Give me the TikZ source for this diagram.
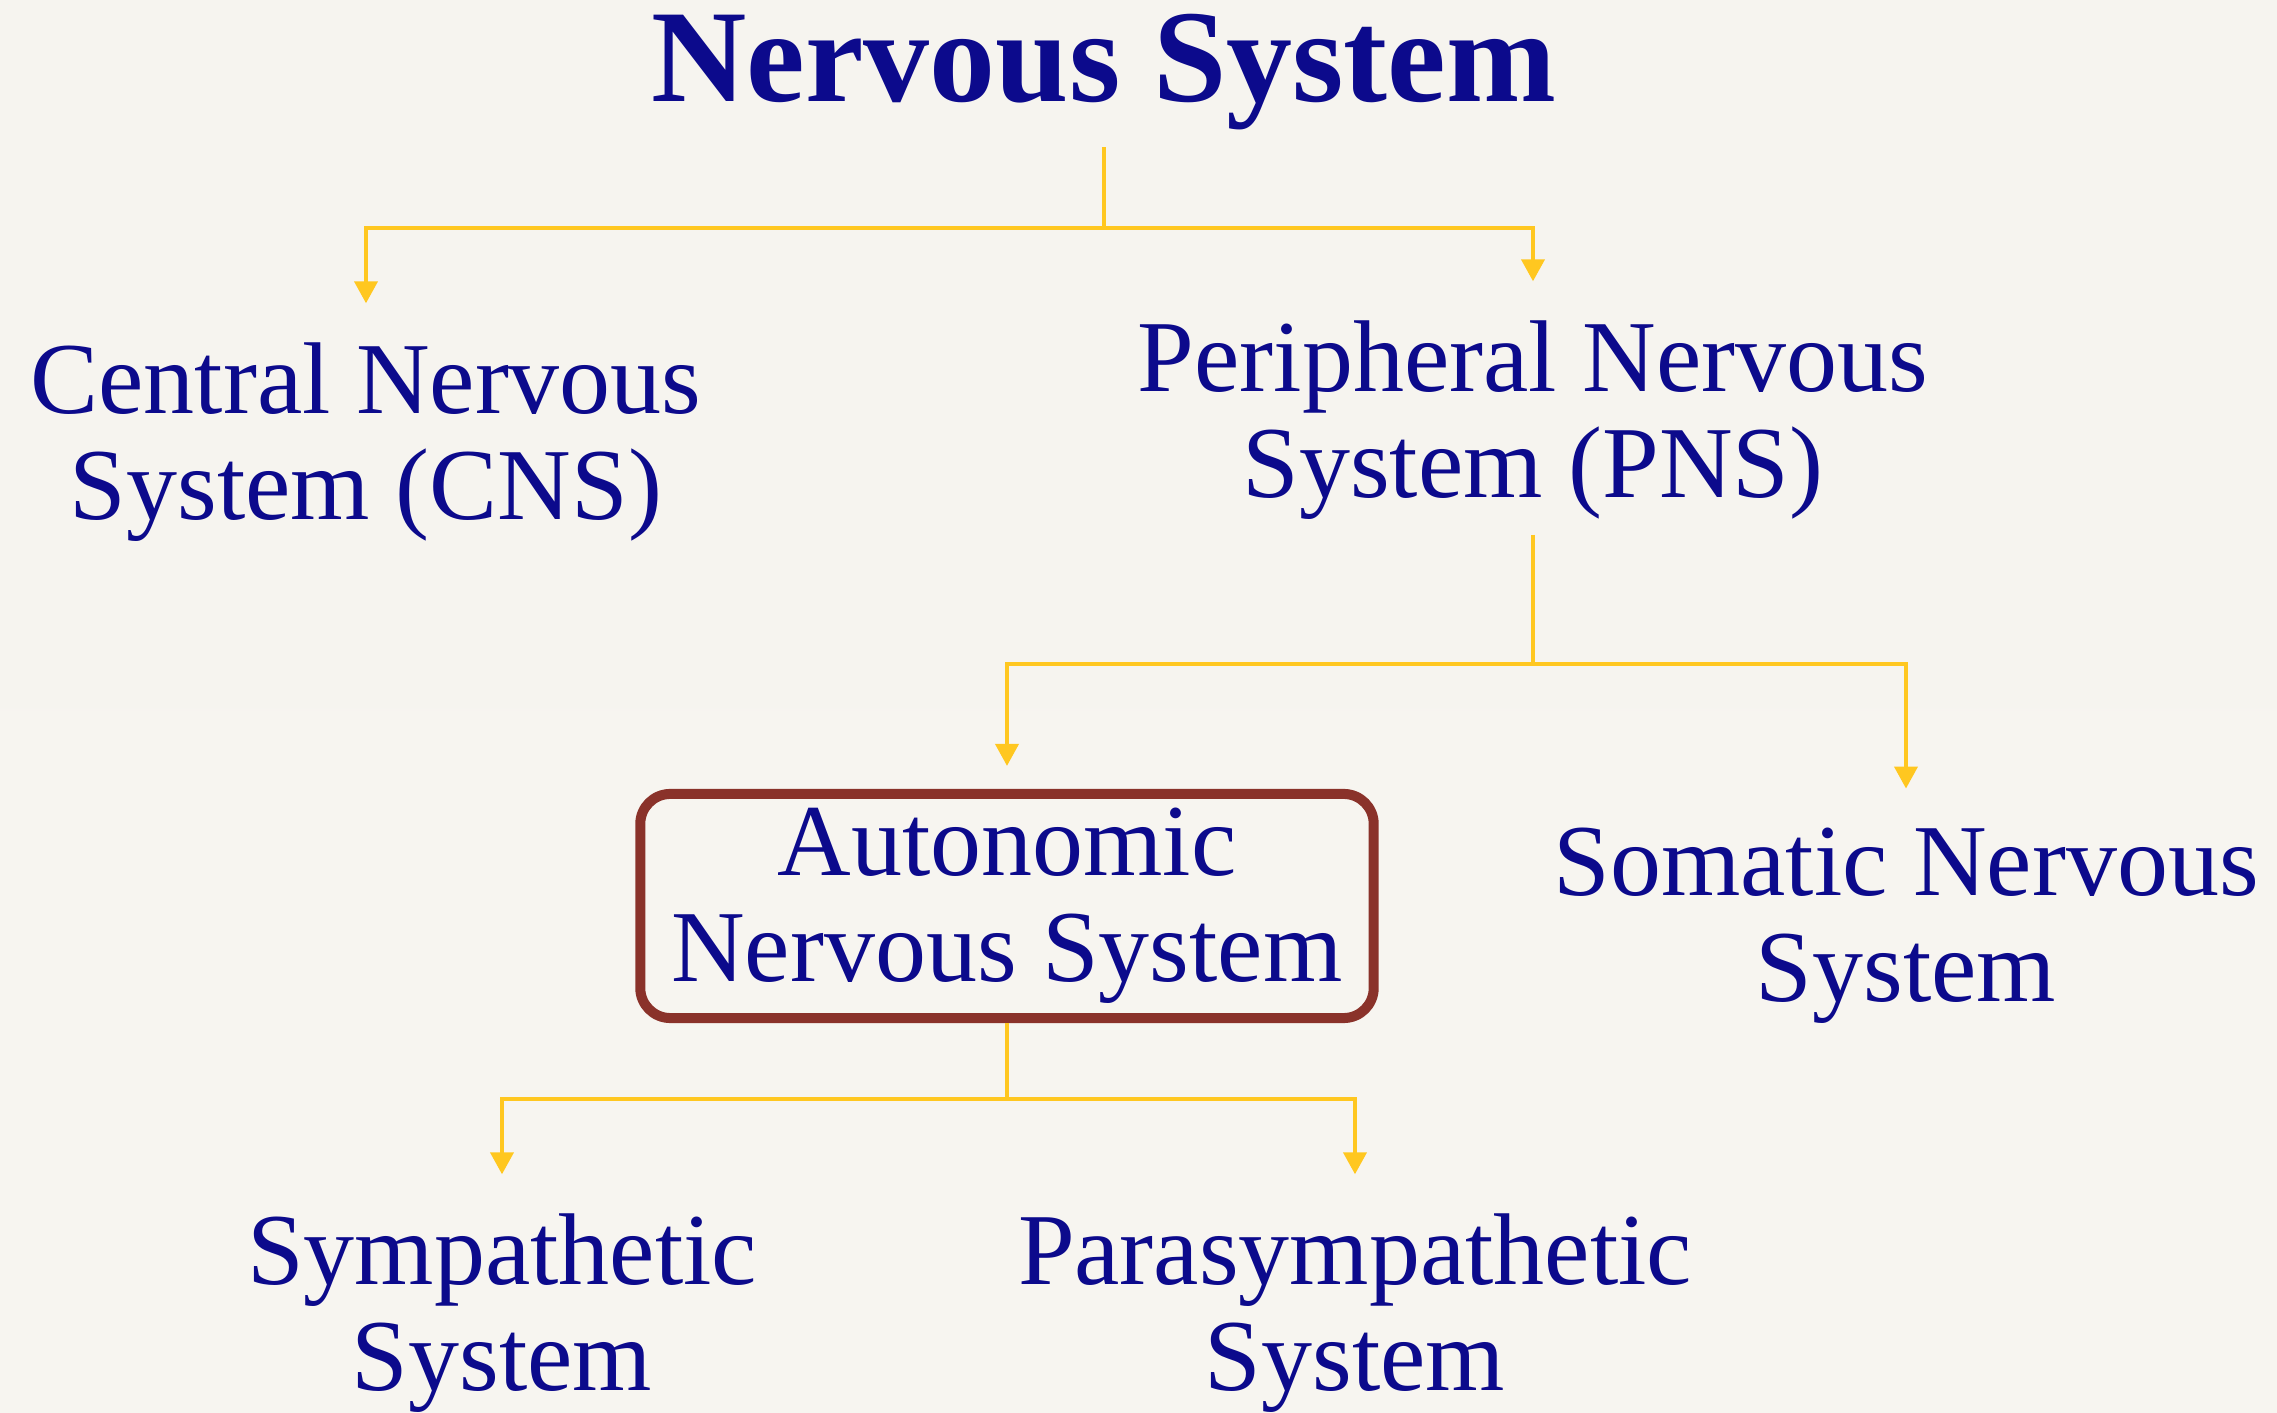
\documentclass[tikz,border=0pt]{standalone}
\usepackage{fontspec}
\setmainfont{Liberation Serif}
\usetikzlibrary{arrows.meta}

\definecolor{navytext}{RGB}{12,10,140}
\definecolor{gold}{RGB}{255,199,32}
\definecolor{boxred}{RGB}{138,50,42}
\definecolor{papertop}{RGB}{246,244,239}
\definecolor{papermid}{RGB}{225,221,214}
\definecolor{paperbot}{RGB}{247,245,240}

\begin{document}
\begin{tikzpicture}[
    x=0.01cm, y=-0.01cm,
    base/.style={text=navytext, align=center, inner sep=0pt, anchor=base,
                 font=\fontsize{29}{30.2}\selectfont},
    heading/.style={base, font=\fontsize{37.5}{40}\selectfont\bfseries},
    marked/.style={base, anchor=center, draw=boxred, line width=0.1cm,
                   rounded corners=0.3cm, minimum width=7.33cm, minimum height=2.24cm},
    link/.style={draw=gold, line width=0.04cm},
    arrow/.style={link, -{Triangle[length=0.22cm, width=0.23cm]}, shorten >=0.39cm}
]

    % Paper background
    \useasboundingbox (0,0) rectangle (2277,1413);
    \fill[top color=papertop, middle color=papermid, bottom color=paperbot]
        (0,0) rectangle (2277,1413);

    % Nodes (base = baseline of the last line)
    \node [heading] (title) at (1104,102) {Nervous System};

    \node [base] (cns) at (366,520) {Central Nervous\\System (CNS)};
    \node [base] (pns) at (1533,498) {Peripheral Nervous\\System (PNS)};

    \node [marked] (ans) at (1007,906) {Autonomic\\Nervous System};
    \node [base] (som) at (1906,1002) {Somatic Nervous\\System};

    \node [base] (symp) at (502,1391) {Sympathetic\\System};
    \node [base] (para) at (1355,1391) {Parasympathetic\\System};

    % Branch points
    \coordinate (nsfork) at (1104,228);
    \coordinate (pnsfork) at (1533,664);
    \coordinate (ansfork) at (1007,1099);

    % Path connections
    \draw [link, shorten <=0.16cm] (title.south) -- (nsfork);
    \draw [arrow] (nsfork) -| (cns.north);
    \draw [arrow] (nsfork) -| (pns.north);

    \draw [link, shorten <=0.14cm] (pns.south) -- (pnsfork);
    \draw [arrow, shorten >=0.23cm] (pnsfork) -| (ans.north);
    \draw [arrow] (pnsfork) -| (som.north);

    \draw [link] (ans.south) -- (ansfork);
    \draw [arrow] (ansfork) -| (symp.north);
    \draw [arrow] (ansfork) -| (para.north);

\end{tikzpicture}
\end{document}
